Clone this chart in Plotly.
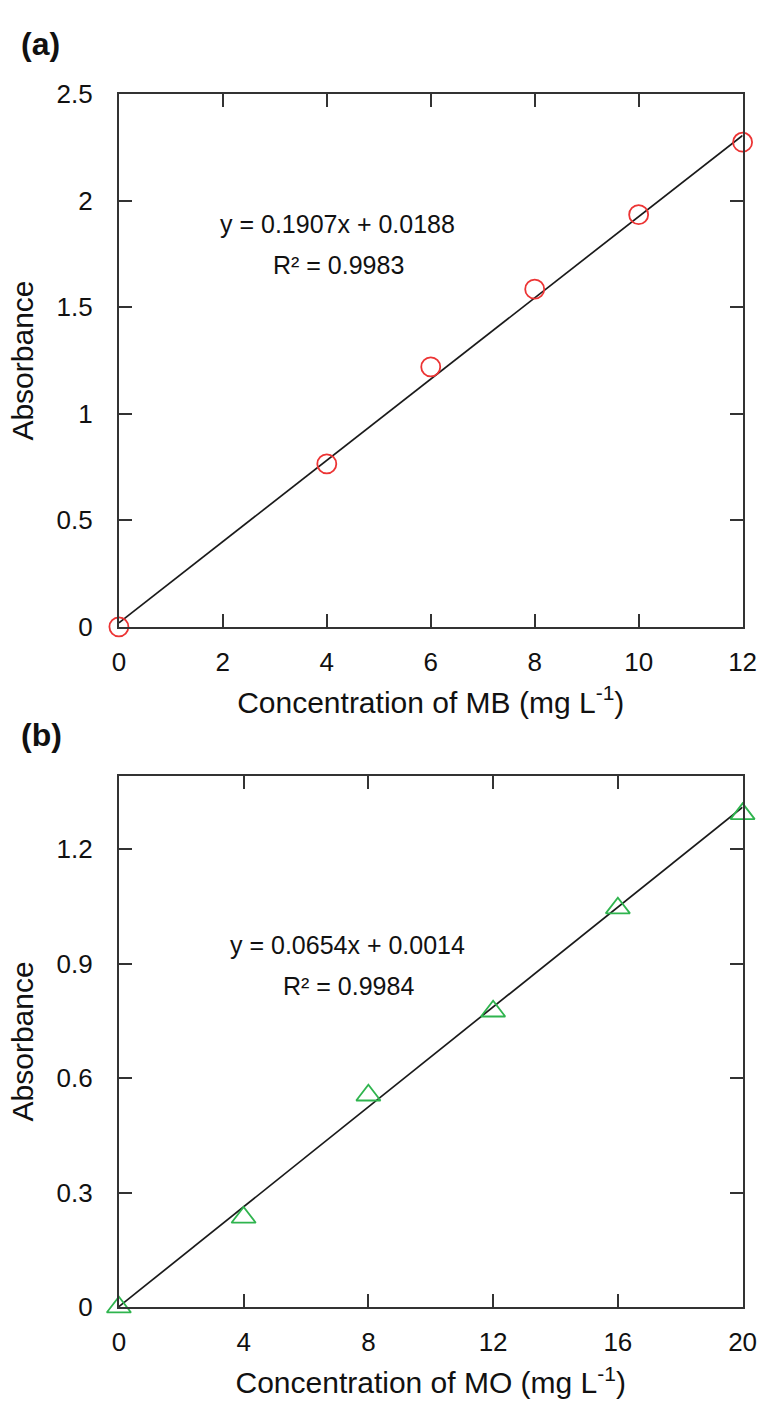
import plotly.graph_objects as go

# Calibration data: methylene blue (MB)
mb_conc = [0, 4, 6, 8, 10, 12]
mb_abs = [0.0, 0.765, 1.22, 1.585, 1.935, 2.275]
mb_slope, mb_intercept, mb_r2 = 0.1907, 0.0188, 0.9983

# Calibration data: methyl orange (MO)
mo_conc = [0, 4, 8, 12, 16, 20]
mo_abs = [0.0, 0.235, 0.555, 0.775, 1.045, 1.292]
mo_slope, mo_intercept, mo_r2 = 0.0654, 0.0014, 0.9984

W, H = 778, 1425
FONT = "Arial, Liberation Sans, sans-serif"
AXIS_COLOR = "#333333"
TEXT_COLOR = "#111111"


def px(x):
    return x / W


def py(y):
    return 1 - y / H


fig = go.Figure()

# --- panel (a): fitted line and measured points ---
fig.add_trace(go.Scatter(
    x=[mb_conc[0], mb_conc[-1]],
    y=[mb_slope * mb_conc[0] + mb_intercept, mb_slope * mb_conc[-1] + mb_intercept],
    mode="lines", line=dict(color="#1a1a1a", width=1.7),
    xaxis="x", yaxis="y", showlegend=False, hoverinfo="skip"))
fig.add_trace(go.Scatter(
    x=mb_conc, y=mb_abs, mode="markers",
    marker=dict(symbol="circle-open", size=19, color="#EC3434", line=dict(width=1.8)),
    xaxis="x", yaxis="y", showlegend=False, cliponaxis=False))

# --- panel (b): fitted line and measured points ---
fig.add_trace(go.Scatter(
    x=[mo_conc[0], mo_conc[-1]],
    y=[mo_slope * mo_conc[0] + mo_intercept, mo_slope * mo_conc[-1] + mo_intercept],
    mode="lines", line=dict(color="#1a1a1a", width=1.7),
    xaxis="x2", yaxis="y2", showlegend=False, hoverinfo="skip"))
fig.add_trace(go.Scatter(
    x=mo_conc, y=mo_abs, mode="markers",
    marker=dict(symbol="triangle-up-open", size=21, color="#2FB44E", line=dict(width=1.8)),
    xaxis="x2", yaxis="y2", showlegend=False, cliponaxis=False))

common_axis = dict(
    showgrid=False, zeroline=False, showline=True, linecolor=AXIS_COLOR, linewidth=2,
    mirror="allticks", ticks="inside", ticklen=13, tickwidth=1.6, tickcolor=AXIS_COLOR,
    tickfont=dict(family=FONT, size=26, color=TEXT_COLOR),
    title_font=dict(family=FONT, size=30, color=TEXT_COLOR),
)
x_axis = dict(common_axis, ticklabelstandoff=11)
y_axis = dict(common_axis, ticklabelstandoff=19)

xdom = [px(115), px(756)]

fig.update_layout(
    width=W, height=H,
    margin=dict(l=0, r=0, t=0, b=0),
    paper_bgcolor="white", plot_bgcolor="white",
    font=dict(family=FONT, color=TEXT_COLOR),
    xaxis=dict(domain=xdom, range=[0, 12], tickvals=[0, 2, 4, 6, 8, 10, 12],
               title=dict(text="Concentration of MB (mg L<sup>-1</sup>)", standoff=16),
               anchor="y", **x_axis),
    yaxis=dict(domain=[py(625), py(81)], range=[0, 2.5],
               tickvals=[0, 0.5, 1, 1.5, 2, 2.5], ticktext=["0", "0.5", "1", "1.5", "2", "2.5"],
               title=dict(text="Absorbance", standoff=14), anchor="x", **y_axis),
    xaxis2=dict(domain=xdom, range=[0, 20], tickvals=[0, 4, 8, 12, 16, 20],
                title=dict(text="Concentration of MO (mg L<sup>-1</sup>)", standoff=16),
                anchor="y2", **x_axis),
    yaxis2=dict(domain=[py(1320), py(777)], range=[0, 1.392],
                tickvals=[0, 0.3, 0.6, 0.9, 1.2], ticktext=["0", "0.3", "0.6", "0.9", "1.2"],
                title=dict(text="Absorbance", standoff=14), anchor="x2", **y_axis),
)

annotations = [
    dict(text="<b>(a)</b>", x=px(12), y=py(30), xanchor="left", yanchor="middle",
         font=dict(family=FONT, size=32, color=TEXT_COLOR)),
    dict(text="<b>(b)</b>", x=px(12), y=py(735), xanchor="left", yanchor="middle",
         font=dict(family=FONT, size=32, color=TEXT_COLOR)),
    dict(text=f"y = {mb_slope:.4f}x + {mb_intercept:.4f}", x=px(340), y=py(213),
         xanchor="center", yanchor="middle", font=dict(family=FONT, size=25, color=TEXT_COLOR)),
    dict(text=f"R² = {mb_r2:.4f}", x=px(341), y=py(255),
         xanchor="center", yanchor="middle", font=dict(family=FONT, size=25, color=TEXT_COLOR)),
    dict(text=f"y = {mo_slope:.4f}x + {mo_intercept:.4f}", x=px(350), y=py(950),
         xanchor="center", yanchor="middle", font=dict(family=FONT, size=25, color=TEXT_COLOR)),
    dict(text=f"R² = {mo_r2:.4f}", x=px(351), y=py(992),
         xanchor="center", yanchor="middle", font=dict(family=FONT, size=25, color=TEXT_COLOR)),
]
for a in annotations:
    a.update(xref="paper", yref="paper", showarrow=False)
fig.update_layout(annotations=annotations)

fig.write_html("out.html")
